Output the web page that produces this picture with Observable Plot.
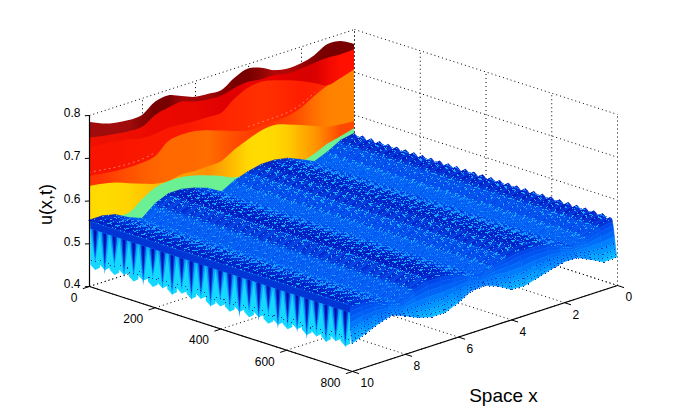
<!DOCTYPE html>
<html><head><meta charset="utf-8">
<script src="https://cdn.jsdelivr.net/npm/d3@7"></script>
<script src="https://cdn.jsdelivr.net/npm/@observablehq/plot@0.6"></script>
<style>html,body{margin:0;background:#fff}svg{display:block}</style>
</head><body><div id="chart"></div>
<script>
const tTicks=[0,200,400,600,800];
const sTicks=[0,2,4,6,8,10];
const uTicks=[0.4,0.5,0.6,0.7,0.8];
// spatial samples, from x=10 (left) to x=0
const sGrid=[10,9.5,9,8.5,8,7.5,7,6.5,6,5.5,5,4.5,4,3.5,3,2.5,2,1.5,1,0.5,0];
// profiles at early time steps
const uTop=[.784,.770,.762,.758,.760,.781,.786,.774,.762,.759,.758,.777,.788,.780,.764,.758,.760,.769,.785,.782,.765];
const uDark=[.757,.751,.746,.742,.742,.760,.767,.771,.761,.756,.755,.763,.767,.763,.763,.756,.758,.7615,.763,.761,.7625];
const uMid=[.7336,.7313,.729,.7229,.7152,.7161,.72,.7178,.7155,.7149,.7149,.7383,.7533,.7572,.7504,.7403,.7286,.7139,.6984,.706,.716];
const uOrange=[.667,.663,.659,.657,.658,.664,.689,.694,.692,.684,.673,.662,.653,.654,.655,.657,.666,.6835,.698,.706,.716];
const uYellow=[.644,.639,.632,.620,.609,.599,.595,.601,.5985,.600,.602,.619,.632,.643,.6458,.637,.6256,.613,.601,.597,.595];
const uGreen=[.554,.552,.551,.551,.5725,.590,.595,.5946,.588,.578,.567,.553,.5505,.556,.554,.549,.541,.5486,.562,.570,.578];
// later surface: ridge line, small time ripple depth, and the end profile at t=800
const uCrest=[.554,.554,.547,.530,.518,.543,.556,.556,.549,.538,.520,.537,.547,.554,.554,.548,.535,.520,.533,.550,.556];
const uRipple=[.018,.016,.014,.013,.012,.012,.012,.012,.012,.012,.012,.012,.012,.012,.012,.012,.012,.012,.012,.012,.012];
const uEnd=[.4645,.478,.491,.501,.489,.475,.4665,.4666,.479,.497,.500,.488,.471,.4686,.4774,.4868,.4946,.4947,.48,.4645,.466];
// time oscillations: depth per oscillation and sampled shape of one oscillation
const toothDepth=[1,.95,1,.92,1,.96,.9,1,.94,1,.97,.92,1,.95,1,.9,1,.96,.93,1,.95,1,.92,1,.96,.94,1,.93,1,1];
const toothShape=[0,.12,.3,.55,.8,1,.7,.3];
const endRamp=[.05,.12,.22,.35,.5,.65,.8,.92,1];
// the x=10 face: lowest value and the tip of the dark spike, per oscillation
const faceLow=[.442,.449,.445,.452,.444,.453,.446,.45,.443,.452,.447,.454,.445,.451,.446,.453,.448,.455,.447,.452,.449,.456,.45,.454,.449,.457,.453];
const spikeTip=[.468,.452,.474,.458,.464,.455,.476,.46,.452,.47,.456,.466,.454,.474,.462,.453,.468,.458,.476,.455,.464,.46,.453,.47,.458,.468,.46];
const faceTop=.552,faceBand=.535;

// palettes
const darkColors=["#a00c0c","#a00c0c","#a00c0c","#a00c0c","#8a0404","#780000","#7a0000","#a00808","#a00808","#a00808","#8c0000","#780000","#780000","#900404","#b00808","#b00808","#a00404","#800000","#780000","#780000","#780000"];
const deepColors=["#ee1000","#ee1000","#ee1000","#ee0e00","#ee0c00","#ea0800","#ea0800","#e80800","#e80800","#e40400","#e00000","#e00000","#e80400","#e80400","#e80000","#e00000","#d80000","#d80000","#f00800","#ff1000","#ff1000"];
const redColors=["#f81400","#f81400","#f81400","#fa1600","#fa1800","#fa1800","#fa1800","#fa1800","#fc1c00","#ff2000","#ff2400","#ff2800","#ff2c00","#ff3000","#ff2c00","#ff2400","#ff1e00","#ff2000","#ff3000","#ff3000","#ff3000"];
const orangeColors=["#ff3200","#ff3600","#ff4400","#ff5000","#ff5c00","#ff6400","#ff6a00","#ff6800","#ff6a00","#ff6e00","#ff5c00","#ff4c00","#ff4000","#ff3800","#ff3800","#ff4400","#ff5600","#ff7000","#ff8000","#ff8400","#ff8400"];
const yellowColors=["#ffd800","#ffdc00","#ffd800","#ffd400","#ffc800","#ffbc00","#ffb000","#ffa000","#ff9800","#ff9000","#ffa800","#ffc000","#ffd800","#ffdc00","#ffd800","#ffcc00","#ffb000","#ff9800","#ff7000","#ff4800","#ff4800"];
const greenColor="#6cf094";
const surfaceStops=[.455,.475,.50,.52,.54,.55,.56];
const surfaceColors=["#12d8ff","#08b0ff","#0084ff","#0060f6","#0048ec","#0024cc","#0010b4"];

// oblique projection of the MATLAB view (pixels)
const O=[89,286],tV=[263,85],sV=[265,-86],uH=171;
const px=(t,s)=>O[0]+t/800*tV[0]+(10-s)/10*sV[0];
const py=(t,s,u)=>O[1]+t/800*tV[1]+(10-s)/10*sV[1]-(u-.4)/.4*uH;
const seg=(a,b)=>({x1:px(a[0],a[1]),y1:py(...a),x2:px(b[0],b[1]),y2:py(...b)});

// dotted box grid
const grid=[];
for(const u of uTicks){grid.push(seg([0,0,u],[800,0,u]),seg([0,10,u],[0,0,u]));}
for(const t of tTicks){grid.push(seg([t,0,.4],[t,0,.8]),seg([t,10,.4],[t,0,.4]));}
for(const s of sTicks){grid.push(seg([0,s,.4],[0,s,.8]),seg([0,s,.4],[800,s,.4]));}

// wall bands: each one reaches from its own profile down to the next
const wallRow=(upper,lower)=>sGrid.map((s,i)=>({x:px(0,s),y1:py(0,s,upper[i]),y2:py(0,s,lower[i])}));
const wallBands=[
  {id:"gd",colors:darkColors,rows:wallRow(uTop,uDark.map(v=>v-.01))},
  {id:"ge",colors:deepColors,rows:wallRow(uDark,uMid.map(v=>v-.01))},
  {id:"gr",colors:redColors,rows:wallRow(uMid,uOrange.map(v=>v-.01))},
  {id:"go",colors:orangeColors,rows:wallRow(uOrange,uYellow.map(v=>v-.01))},
  {id:"gy",colors:yellowColors,rows:wallRow(uYellow,uGreen.map(v=>v-.01))},
  {id:"gg",colors:sGrid.map(()=>greenColor),rows:wallRow(uGreen,uCrest.map(v=>v-.015))}
];
const gradients=()=>{
  const defs=d3.create("svg:defs");
  for(const b of wallBands){
    const g=defs.append("linearGradient").attr("id",b.id).attr("gradientUnits","userSpaceOnUse")
      .attr("x1",px(0,10)).attr("x2",px(0,0)).attr("y1",0).attr("y2",0);
    b.colors.forEach((c,i)=>g.append("stop").attr("offset",i/20).attr("stop-color",c));
  }
  return defs.node();
};
const orangeEdge=sGrid.map((s,i)=>({i,x:px(0,s),y:py(0,s,uOrange[i])})).filter(d=>d.i<6||(d.i>11&&d.i<18));

// surface cells, back to front
const tRows=[];
const nT=toothDepth.length,nP=toothShape.length,tEnd=782;
for(let k=0;k<nT;k++)for(let m=0;m<nP;m++){
  const t=tEnd*(k+m/nP)/nT;
  const d=toothDepth[k]*toothShape[m];
  tRows.push({t,ramp:false,u:sGrid.map((_,i)=>uCrest[i]-uRipple[i]*d)});
}
endRamp.forEach((f,n)=>{
  tRows.push({t:tEnd+(800-tEnd)*(n+1)/endRamp.length,ramp:true,f,u:sGrid.map((_,i)=>uCrest[i]+(uEnd[i]-uCrest[i])*f)});
});
const cells=[];
tRows.slice(0,-1).forEach((r,j)=>{
  const n=tRows[j+1];
  for(let i=0;i<20;i++){
    const uM=(r.u[i]+r.u[i+1]+n.u[i]+n.u[i+1])/4;
    for(const q of [i,i+1])cells.push({k:j*100+i,u:uM,x1:px(r.t,sGrid[q]),y1:py(r.t,sGrid[q],r.u[q]),x2:px(n.t,sGrid[q]),y2:py(n.t,sGrid[q],n.u[q])});
  }
});
// mesh specks: sets of rows drawn with different dash rhythms
const speckSets=[[],[],[],[]],lowSpecks=[],endDots=[];
tRows.forEach((r,j)=>{
  for(let i=0;i<20;i++){
    const sg=seg([r.t,sGrid[i],r.u[i]],[r.t,sGrid[i+1],r.u[i+1]]);
    const u=(r.u[i]+r.u[i+1])/2;
    if(r.ramp){if(r.f>.6)endDots.push(sg);continue;}
    if(j%2)continue;
    if(u>.53)speckSets[(j/2)%4].push(sg);
    else lowSpecks.push(sg);
  }
});
// streaks along time
const streaks=[[],[]];
sGrid.forEach((s,i)=>{
  streaks[i%2].push(seg([8,s,uCrest[i]-.004],[tEnd,s,uCrest[i]-.004]));
});

// x=10 face
const nF=faceLow.length,faceT=k=>790*k/nF+4;
const faceArea=[];
faceLow.forEach((v,k)=>{
  faceArea.push({t:faceT(k),u:v+.009},{t:faceT(k+.5),u:v},{t:faceT(k+1),u:v+.009});
});
const spikes=(f,w)=>{
  const r=[];
  spikeTip.forEach((tip,k)=>{
    const a=faceT(k+.5-w),c=faceT(k+.5),b=faceT(k+.5+w);
    const bot=faceBand-(faceBand-tip)*f;
    r.push({k,x:px(a,10),y1:py(a,10,faceBand),y2:py(a,10,faceBand)},{k,x:px(c,10),y1:py(c,10,faceBand),y2:py(c,10,bot)},{k,x:px(b,10),y1:py(b,10,faceBand),y2:py(b,10,faceBand)});
  });
  return r;
};
const faceStrip=faceLow.map((_,k)=>({t:faceT(k)})).concat({t:faceT(nF)});
const faceDots=faceLow.map((v,k)=>seg([faceT(k),10,v+.02],[faceT(k+1),10,v+.02]));

// axes
const axes=[seg([0,10,.4],[0,10,.8]),seg([0,10,.4],[800,10,.4]),seg([800,10,.4],[800,0,.4])];
const ticks=[
  ...uTicks.map(u=>seg([0,10,u],[-6,10.1,u])),
  ...tTicks.map(t=>seg([t,10,.4],[t,10.25,.4])),
  ...sTicks.map(s=>seg([800,s,.4],[820,s,.4]))
];
const txt=(rows,o)=>Plot.text(rows,{x:"x",y:"y",text:"text",fontSize:12,fontFamily:"Liberation Sans",fill:"#000",...o});
const lnk=(data,o)=>Plot.link(data,{x1:"x1",y1:"y1",x2:"x2",y2:"y2",...o});
const speckDash=["1,4,1,7,1,3","1,8,2,4","1,3,1,9,1,5","2,6,1,4"];
const plot=Plot.plot({
  width:681,height:416,margin:0,
  x:{domain:[0,681],range:[0,681],axis:null},
  y:{domain:[0,416],range:[0,416],axis:null},
  color:{type:"linear",domain:surfaceStops,range:surfaceColors,interpolate:"rgb",clamp:true},
  style:{background:"#fff"},
  marks:[
    gradients,
    lnk(grid,{stroke:"#000",strokeWidth:1,strokeDasharray:"1,3"}),
    ...[...wallBands].reverse().map(b=>Plot.area(b.rows,{x1:"x",x2:"x",y1:"y1",y2:"y2",fill:`url(#${b.id})`,curve:"catmull-rom"})),
    Plot.line(orangeEdge,{x:"x",y:"y",z:d=>d.i<6,curve:"catmull-rom",stroke:"#ffd8a8",strokeWidth:.8,strokeOpacity:.7,strokeDasharray:"1,4"}),
    Plot.area(cells,{x1:"x1",y1:"y1",x2:"x2",y2:"y2",z:"k",fill:"u",stroke:"u",strokeWidth:.6}),
    lnk(streaks[0],{stroke:"#1080ff",strokeWidth:1,strokeDasharray:"9,4,3,7",strokeOpacity:.8,shapeRendering:"crispEdges"}),
    lnk(streaks[1],{stroke:"#0030d0",strokeWidth:1,strokeDasharray:"5,8,11,6",strokeOpacity:.7,shapeRendering:"crispEdges"}),
    ...speckSets.map((d,n)=>lnk(d,{stroke:"#18b0ff",strokeWidth:1,shapeRendering:"crispEdges",strokeDasharray:speckDash[n]})),
    lnk(lowSpecks,{stroke:"#1890ff",strokeWidth:1,shapeRendering:"crispEdges",strokeDasharray:"2,7,1,5"}),
    lnk(endDots,{stroke:"#0038d8",strokeWidth:1,shapeRendering:"crispEdges",strokeDasharray:"1,3"}),
    Plot.area(faceArea,{x1:d=>px(d.t,10),x2:d=>px(d.t,10),y1:d=>py(d.t,10,faceTop),y2:d=>py(d.t,10,d.u),fill:"#14d8ff"}),
    Plot.area(spikes(1.15,.5),{x1:"x",x2:"x",y1:"y1",y2:"y2",z:"k",fill:"#10a0ff"}),
    Plot.area(spikes(1,.3),{x1:"x",x2:"x",y1:"y1",y2:"y2",z:"k",fill:"#0048e0"}),
    Plot.area(spikes(.85,.14),{x1:"x",x2:"x",y1:"y1",y2:"y2",z:"k",fill:"#0010a8"}),
    Plot.area(faceStrip,{x1:d=>px(d.t,10),x2:d=>px(d.t,10),y1:d=>py(d.t,10,faceTop),y2:d=>py(d.t,10,faceBand),fill:"#0034d4"}),
    lnk(faceDots,{stroke:"#0030c0",strokeWidth:1,strokeDasharray:"1,3",shapeRendering:"crispEdges"}),
    lnk(axes,{stroke:"#000",strokeWidth:1.2}),
    lnk(ticks,{stroke:"#000",strokeWidth:1}),
    txt(uTicks.map(u=>({x:px(0,10),y:py(0,10,u),text:String(u)})),{dx:-9,dy:-2,textAnchor:"end"}),
    txt(tTicks.map(t=>({x:px(t,10),y:py(t,10,.4),text:String(t)})),{dx:-12,dy:11.5,textAnchor:"end"}),
    txt(sTicks.map(s=>({x:px(800,s),y:py(800,s,.4),text:String(s)})),{dx:8,dy:12,textAnchor:"start"}),
    Plot.text(["Space x"],{x:()=>503,y:()=>395,fontSize:19,fontFamily:"Liberation Sans",fill:"#000"}),
    Plot.text(["u(x,t)"],{x:()=>46,y:()=>204,rotate:-90,fontSize:18,fontFamily:"Liberation Sans",fill:"#000"})
  ]
});
document.getElementById("chart").append(plot);
</script></body></html>
